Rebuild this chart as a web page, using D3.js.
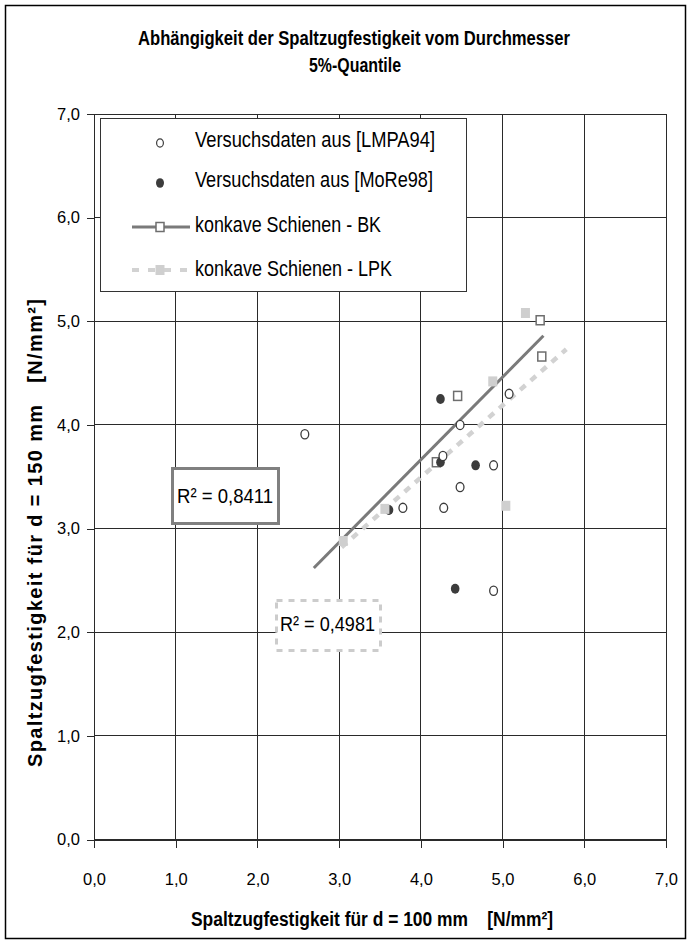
<!DOCTYPE html>
<html><head><meta charset="utf-8">
<script src="https://cdn.jsdelivr.net/npm/d3@7/dist/d3.min.js"></script>
<style>
body{margin:0;background:#fff}
svg{display:block}
text{white-space:pre}
</style>
</head><body>
<svg id="chart" width="690" height="943"></svg>
<script>
// ---- data ----
const xTickValues = [0, 1, 2, 3, 4, 5, 6, 7];
const yTickValues = [0, 1, 2, 3, 4, 5, 6, 7];
const xTickLabels = ["0,0", "1,0", "2,0", "3,0", "4,0", "5,0", "6,0", "7,0"];
const yTickLabels = ["0,0", "1,0", "2,0", "3,0", "4,0", "5,0", "6,0", "7,0"];

const seriesNames = ["Versuchsdaten aus [LMPA94]", "Versuchsdaten aus [MoRe98]", "konkave Schienen - BK", "konkave Schienen - LPK"];

const lmpa94X = [2.58, 3.78, 4.28, 4.48, 4.89, 4.27, 4.89, 5.08, 4.48];
const lmpa94Y = [3.91, 3.20, 3.20, 3.40, 3.61, 3.70, 2.40, 4.30, 4.00];

const more98X = [3.61, 4.24, 4.67, 4.42, 4.24];
const more98Y = [3.18, 3.64, 3.61, 2.42, 4.25];

const bkX = [4.19, 4.45, 5.46, 5.48];
const bkY = [3.64, 4.28, 5.01, 4.66];

const lpkX = [3.05, 3.56, 5.04, 4.88, 5.28];
const lpkY = [2.88, 3.19, 3.22, 4.42, 5.08];

const bkTrendX = [2.69, 5.50];
const bkTrendY = [2.62, 4.86];
const lpkTrendX = [3.03, 5.78];
const lpkTrendY = [2.82, 4.73];

const r2Values = ["0,8411", "0,4981"];

const titleLines = ["Abhängigkeit der Spaltzugfestigkeit vom Durchmesser", "5%-Quantile"];
const xTitle = "Spaltzugfestigkeit für d = 100 mm    [N/mm²]";
const yTitle = "Spaltzugfestigkeit für d = 150 mm   [N/mm²]";

// ---- drawing ----
const NARROW = "'Liberation Sans Narrow','Arial Narrow','Liberation Sans',Arial,sans-serif";
const REG = "'Liberation Sans',Arial,sans-serif";
const svg = d3.select("#chart");

const x = d3.scaleLinear().domain([0, 7]).range([94, 666]);
const y = d3.scaleLinear().domain([0, 7]).range([839.5, 114]);

// outer frame
svg.append("rect").attr("x", 5.5).attr("y", 5.5).attr("width", 680).attr("height", 933)
  .attr("fill", "#fff").attr("stroke", "#000").attr("stroke-width", 1.5);

// gridlines
const grid = svg.append("g").attr("stroke", "#2a2a2a").attr("stroke-width", 1).attr("shape-rendering", "crispEdges");
grid.selectAll("line.v").data(xTickValues).join("line")
  .attr("x1", d => x(d)).attr("x2", d => x(d)).attr("y1", y(0)).attr("y2", y(7));
grid.selectAll("line.h").data(yTickValues).join("line")
  .attr("y1", d => y(d)).attr("y2", d => y(d)).attr("x1", x(0)).attr("x2", x(7));

// axes
const xAxis = svg.append("g").attr("transform", `translate(0,${y(0)})`)
  .call(d3.axisBottom(x).tickValues(xTickValues).tickSize(8).tickPadding(26)
    .tickFormat((d, i) => xTickLabels[i]));
const yAxis = svg.append("g").attr("transform", `translate(${x(0)},0)`)
  .call(d3.axisLeft(y).tickValues(yTickValues).tickSize(7).tickPadding(7)
    .tickFormat((d, i) => yTickLabels[i]));
[xAxis, yAxis].forEach(a => {
  a.selectAll("path,line").attr("stroke", "#2a2a2a").attr("shape-rendering", "crispEdges");
  a.selectAll("text").attr("font-family", REG).attr("font-size", 16.5).attr("fill", "#000");
});

// trend lines
const line = d3.line().x(d => x(d[0])).y(d => y(d[1]));
svg.append("path").attr("d", line(bkTrendX.map((v, i) => [v, bkTrendY[i]])))
  .attr("stroke", "#7a7a7a").attr("stroke-width", 3).attr("fill", "none");
svg.append("path").attr("d", line(lpkTrendX.map((v, i) => [v, lpkTrendY[i]])))
  .attr("stroke", "#d2d2d2").attr("stroke-width", 4.5).attr("fill", "none").attr("stroke-dasharray", "7,7");

// BK squares
svg.append("g").selectAll("rect").data(bkX.map((v, i) => [v, bkY[i]])).join("rect")
  .attr("x", d => x(d[0]) - 4).attr("y", d => y(d[1]) - 4.5).attr("width", 8).attr("height", 9)
  .attr("fill", "#fff").attr("stroke", "#6e6e6e").attr("stroke-width", 1.5);
// MoRe98 filled circles
svg.append("g").selectAll("ellipse").data(more98X.map((v, i) => [v, more98Y[i]])).join("ellipse")
  .attr("cx", d => x(d[0])).attr("cy", d => y(d[1])).attr("rx", 4.3).attr("ry", 5)
  .attr("fill", "#3c3c3c");
// LMPA94 open circles
svg.append("g").selectAll("ellipse").data(lmpa94X.map((v, i) => [v, lmpa94Y[i]])).join("ellipse")
  .attr("cx", d => x(d[0])).attr("cy", d => y(d[1])).attr("rx", 3.9).attr("ry", 4.6)
  .attr("fill", "#fff").attr("stroke", "#3c3c3c").attr("stroke-width", 1.3);
// LPK squares
svg.append("g").selectAll("rect").data(lpkX.map((v, i) => [v, lpkY[i]])).join("rect")
  .attr("x", d => x(d[0]) - 4.5).attr("y", d => y(d[1]) - 5).attr("width", 9).attr("height", 10)
  .attr("fill", "#cfcfcf");

// title
svg.append("text").attr("x", 354).attr("y", 45).attr("text-anchor", "middle")
  .attr("font-family", NARROW).attr("font-weight", "bold").attr("font-size", 20)
  .attr("textLength", 432).attr("lengthAdjust", "spacingAndGlyphs").text(titleLines[0]);
svg.append("text").attr("x", 355).attr("y", 72).attr("text-anchor", "middle")
  .attr("font-family", NARROW).attr("font-weight", "bold").attr("font-size", 20)
  .attr("textLength", 92).attr("lengthAdjust", "spacingAndGlyphs").text(titleLines[1]);

// axis titles
svg.append("text").attr("x", 372).attr("y", 926).attr("text-anchor", "middle")
  .attr("font-family", NARROW).attr("font-weight", "bold").attr("font-size", 20)
  .attr("textLength", 362).attr("lengthAdjust", "spacingAndGlyphs").text(xTitle);
svg.append("text").attr("transform", "translate(42,533) rotate(-90)").attr("text-anchor", "middle")
  .attr("font-family", NARROW).attr("font-weight", "bold").attr("font-size", 20)
  .attr("textLength", 468).attr("lengthAdjust", "spacing").text(yTitle);

// legend
const lg = svg.append("g");
lg.append("rect").attr("x", 100.5).attr("y", 118.5).attr("width", 366).attr("height", 173)
  .attr("fill", "#fff").attr("stroke", "#333").attr("stroke-width", 1);
const rowY = [143, 183, 227, 270];
const textBase = [147, 187, 232, 276];
const textLen = [240, 238, 186, 197];
lg.append("ellipse").attr("cx", 160).attr("cy", rowY[0]).attr("rx", 3.4).attr("ry", 4.2)
  .attr("fill", "#fff").attr("stroke", "#3c3c3c").attr("stroke-width", 1.2);
lg.append("ellipse").attr("cx", 160).attr("cy", rowY[1]).attr("rx", 4).attr("ry", 4.8)
  .attr("fill", "#3c3c3c");
lg.append("line").attr("x1", 132).attr("x2", 190).attr("y1", rowY[2]).attr("y2", rowY[2])
  .attr("stroke", "#7a7a7a").attr("stroke-width", 3);
lg.append("rect").attr("x", 156).attr("y", rowY[2] - 4.5).attr("width", 8).attr("height", 9)
  .attr("fill", "#fff").attr("stroke", "#6e6e6e").attr("stroke-width", 1.5);
lg.append("line").attr("x1", 132).attr("x2", 190).attr("y1", rowY[3]).attr("y2", rowY[3])
  .attr("stroke", "#d2d2d2").attr("stroke-width", 4).attr("stroke-dasharray", "7,9");
lg.append("rect").attr("x", 155.5).attr("y", rowY[3] - 5).attr("width", 9).attr("height", 10)
  .attr("fill", "#cfcfcf");
lg.selectAll("text.l").data(seriesNames).join("text")
  .attr("x", 195).attr("y", (d, i) => textBase[i])
  .attr("font-family", NARROW).attr("font-size", 21.5).attr("fill", "#000")
  .attr("textLength", (d, i) => textLen[i]).attr("lengthAdjust", "spacingAndGlyphs")
  .text(d => d);

// R² boxes
function r2Box(bx, by, bw, bh, stroke, dash, tx, ty, tlen, val) {
  const g = svg.append("g");
  g.append("rect").attr("x", bx).attr("y", by).attr("width", bw).attr("height", bh)
    .attr("fill", "#fff").attr("stroke", stroke).attr("stroke-width", 3)
    .attr("stroke-dasharray", dash);
  g.append("text").attr("x", tx).attr("y", ty)
    .attr("font-family", NARROW).attr("font-size", 21).attr("fill", "#000")
    .attr("textLength", tlen).attr("lengthAdjust", "spacingAndGlyphs")
    .text("R² = " + val);
}
r2Box(172.5, 468.5, 106, 55, "#808080", null, 177, 503, 96, r2Values[0]);
r2Box(276.5, 600.5, 104, 50, "#cccccc", "6,6", 280, 631, 95, r2Values[1]);
</script>
</body></html>
